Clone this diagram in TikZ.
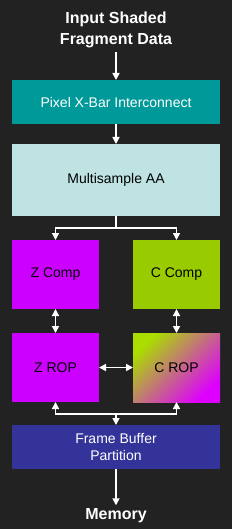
\documentclass[tikz,border=0pt]{standalone}
\usepackage{fontspec}
\setmainfont{Liberation Sans}
\usetikzlibrary{
    arrows.meta,
    positioning,
    calc
}
\definecolor{bgdark}{RGB}{34,34,34}
\definecolor{xbarteal}{RGB}{0,153,153}
\definecolor{msaacyan}{RGB}{191,227,227}
\definecolor{zpurple}{RGB}{204,0,255}
\definecolor{cgreen}{RGB}{153,204,0}
\definecolor{fbblue}{RGB}{51,51,153}
\definecolor{ropgreen}{RGB}{170,221,0}
\definecolor{ropmid}{RGB}{210,190,215}
\definecolor{roppink}{RGB}{221,0,255}
\tikzstyle{block} = [
    rectangle,
    inner sep=0pt,
    outer sep=0pt,
    minimum width=208pt,
    minimum height=44pt,
    align=center,
    font=\fontsize{14}{17}\selectfont
]
\tikzstyle{halfblock} = [
    block,
    minimum width=87pt,
    minimum height=69pt
]
\tikzstyle{title} = [
    align=center,
    text=white,
    font=\bfseries\fontsize{16}{21}\selectfont
]
\tikzstyle{link} = [
    -{Triangle[width=7pt,length=7pt]},
    line width=1.6pt,
    draw=white
]
\tikzstyle{bilink} = [
    {Triangle[width=7pt,length=7pt]}-{Triangle[width=7pt,length=7pt]},
    line width=1.6pt,
    draw=white
]

\begin{document}
\begin{tikzpicture}[x=1pt, y=1pt]
    \fill[bgdark] (0,0) rectangle (232,-529);

    % Main column
    \node[title] (input) at (116,-30) {Input Shaded\\Fragment Data};
    \node[block, fill=xbarteal, text=white] (xbar) at (116,-102) {Pixel X-Bar Interconnect};
    \node[block, fill=msaacyan, minimum height=72pt, below=20pt of xbar] (msaa) {Multisample AA};

    % Z and C units
    \node[halfblock, fill=zpurple, below right=24pt and 0pt of msaa.south west] (zcomp) {Z Comp};
    \node[halfblock, fill=cgreen, below left=24pt and 0pt of msaa.south east] (ccomp) {C Comp};
    \node[halfblock, fill=zpurple, below=24pt of zcomp] (zrop) {Z ROP};
    \node[halfblock, top color=ropgreen, middle color=ropmid, bottom color=roppink,
          shading angle=45, below=24pt of ccomp] (crop) {C ROP};

    \node[block, fill=fbblue, text=white, below=23pt of $(zrop.south)!0.5!(crop.south)$] (fb) {Frame Buffer\\Partition};
    \node[title] (memory) at (116,-516) {Memory};

    % Arrows
    \coordinate (split) at ($(msaa.south)+(0,-12)$);
    \coordinate (merge) at ($(fb.north)+(0,11)$);
    \draw[link] (input) -- (xbar);
    \draw[link] (xbar) -- (msaa);
    \draw[white, line width=1.6pt] (msaa) -- (split);
    \draw[link] (split) -| (zcomp);
    \draw[link] (split) -| (ccomp);
    \draw[bilink] (zcomp) -- (zrop);
    \draw[bilink] (ccomp) -- (crop);
    \draw[bilink] (zrop) -- (crop);
    \draw[link] (merge) -| (zrop);
    \draw[link] (merge) -| (crop);
    \draw[link] (merge) -- (fb);
    \draw[link] (fb) -- (memory);
\end{tikzpicture}
\end{document}
